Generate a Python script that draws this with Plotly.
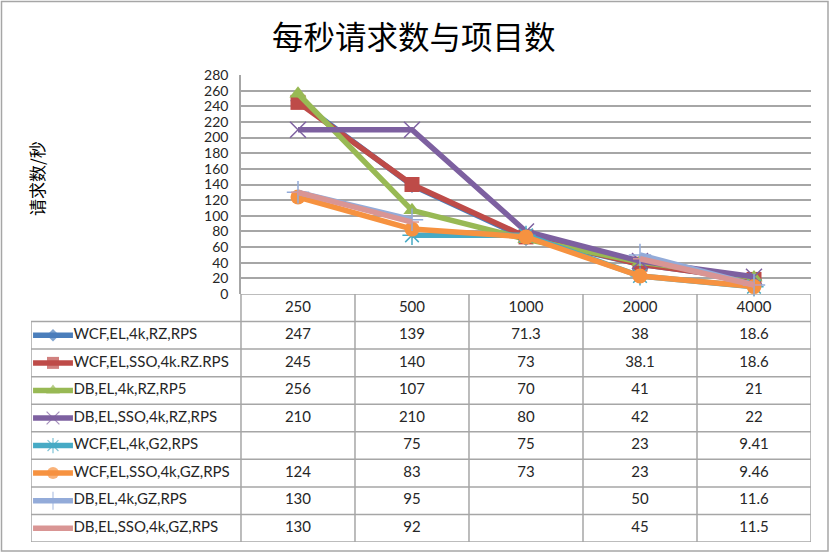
import plotly.graph_objects as go

categories = ["250", "500", "1000", "2000", "4000"]
series_names = [
    "WCF,EL,4k,RZ,RPS",
    "WCF,EL,SSO,4k.RZ.RPS",
    "DB,EL,4k,RZ,RP5",
    "DB,EL,SSO,4k,RZ,RPS",
    "WCF,EL,4k,G2,RPS",
    "WCF,EL,SSO,4k,GZ,RPS",
    "DB,EL,4k,GZ,RPS",
    "DB,EL,SSO,4k,GZ,RPS",
]
s1 = [247, 139, 71.3, 38, 18.6]
s2 = [245, 140, 73, 38.1, 18.6]
s3 = [256, 107, 70, 41, 21]
s4 = [210, 210, 80, 42, 22]
s5 = [None, 75, 75, 23, 9.41]
s6 = [124, 83, 73, 23, 9.46]
s7 = [130, 95, None, 50, 11.6]
s8 = [130, 92, None, 45, 11.5]
series_values = [s1, s2, s3, s4, s5, s6, s7, s8]

title_text = "每秒请求数与项目数"
y_title = "请求数/秒"

colors = ["#4A7EBB", "#BE4B48", "#98B954", "#7D60A0", "#46AAC5", "#F69240", "#93ABD9", "#D99594"]
symbols = ["diamond", "square", "triangle-up", "x-thin-open", "asterisk-open",
           "circle", "cross-thin-open", "line-ew-open"]
msizes = [12, 15, 15, 16, 16, 15, 16, 10]

W, H = 830, 554
def px(x):
    return x / W
def py(y):
    return (H - y) / H

FONT = "Lato, 'Open Sans', sans-serif"
CJK = "'Noto Sans CJK SC', sans-serif"
GRID = "#a6a6a6"

fig = go.Figure()
xs = list(range(len(categories)))

for name, vals, c, sym, ms in zip(series_names, series_values, colors, symbols, msizes):
    thin = sym.endswith("-open")
    fig.add_trace(go.Scatter(
        x=xs, y=vals, mode="lines+markers", name=name,
        line=dict(color=c, width=5.5), connectgaps=False,
        marker=dict(symbol=sym, size=ms, color=c,
                    line=dict(color=c, width=1.5 if thin else 0)),
        cliponaxis=False, showlegend=False, xaxis="x", yaxis="y",
    ))

key_x = [-2.324, -2.149, -1.974]
for i, (c, sym, ms) in enumerate(zip(colors, symbols, msizes)):
    r = i + 1.5
    thin = sym.endswith("-open")
    fig.add_trace(go.Scatter(
        x=key_x, y=[r, r, r], mode="lines+markers",
        line=dict(color=c, width=5.5),
        marker=dict(symbol=sym, size=[0, ms * 0.8, 0], color=c,
                    line=dict(color=c, width=1.2 if thin else 0)),
        showlegend=False, xaxis="x2", yaxis="y2", hoverinfo="skip",
    ))

fig.add_trace(go.Scatter(
    x=[-1.97] * len(series_names), y=[i + 1.5 for i in range(len(series_names))],
    text=series_names, mode="text", textposition="middle right",
    textfont=dict(family=FONT, size=15, color="#262626"),
    showlegend=False, xaxis="x2", yaxis="y2", hoverinfo="skip",
))

fig.add_trace(go.Scatter(
    x=xs, y=[0.5] * len(xs), text=categories, mode="text", textposition="middle center",
    textfont=dict(family=FONT, size=15, color="#262626"),
    showlegend=False, xaxis="x2", yaxis="y2", hoverinfo="skip",
))

def fmt(v):
    return "" if v is None else f"{v:g}"

for i, vals in enumerate(series_values):
    fig.add_trace(go.Scatter(
        x=xs, y=[i + 1.5] * len(xs), text=[fmt(v) for v in vals],
        mode="text", textposition="middle center",
        textfont=dict(family=FONT, size=15, color="#262626"),
        showlegend=False, xaxis="x2", yaxis="y2", hoverinfo="skip",
    ))

nrows = len(series_names) + 1
XL = -2.342
shapes = []
line_style = dict(color=GRID, width=1.5)
for k in range(1, nrows + 1):
    shapes.append(dict(type="line", xref="x2", yref="y2", x0=XL, x1=4.5, y0=k, y1=k, line=line_style))
shapes.append(dict(type="line", xref="x2", yref="y2", x0=-0.5, x1=4.5, y0=0, y1=0, line=line_style))
shapes.append(dict(type="line", xref="x2", yref="y2", x0=XL, x1=XL, y0=1, y1=nrows, line=line_style))
for xv in [-0.5, 0.5, 1.5, 2.5, 3.5, 4.5]:
    shapes.append(dict(type="line", xref="x2", yref="y2", x0=xv, x1=xv, y0=0, y1=nrows, line=line_style))
shapes.append(dict(type="rect", xref="paper", yref="paper", x0=px(1.5), x1=px(828), y0=py(551), y1=py(1.5),
                   line=dict(color="#a6a6a6", width=1.5)))

fig.update_layout(
    width=W, height=H,
    margin=dict(l=0, r=0, t=0, b=0, autoexpand=False),
    paper_bgcolor="white", plot_bgcolor="white",
    shapes=shapes,
    xaxis=dict(domain=[px(241), px(811)], range=[-0.5, 4.5], showticklabels=False,
               showgrid=False, zeroline=False, showline=False, automargin=False),
    yaxis=dict(domain=[py(294), py(75)], range=[0, 280], dtick=20, tick0=0,
               showgrid=True, gridcolor=GRID, gridwidth=1.5, zeroline=False,
               showline=True, linecolor=GRID, linewidth=1.5, ticks="",
               ticklabelstandoff=8, automargin=False,
               tickfont=dict(family=FONT, size=14, color="#262626")),
    xaxis2=dict(domain=[px(31), px(811)], range=[XL, 4.5], visible=False, anchor="y2", automargin=False),
    yaxis2=dict(domain=[py(542), py(294)], range=[nrows, 0], visible=False, anchor="x2", automargin=False),
    annotations=[
        dict(text=title_text, xref="paper", yref="paper", x=px(414), y=py(35),
             showarrow=False, xanchor="center", yanchor="middle",
             font=dict(family=CJK, size=31.5, color="#000000")),
        dict(text=y_title, xref="paper", yref="paper", x=px(36), y=py(179),
             showarrow=False, textangle=-90, xanchor="center", yanchor="middle",
             font=dict(family=CJK, size=17, color="#000000")),
    ],
)

fig.write_html("out.html", config={"displayModeBar": False},
               post_script="document.body.style.margin='0px';document.body.style.overflow='hidden';")
